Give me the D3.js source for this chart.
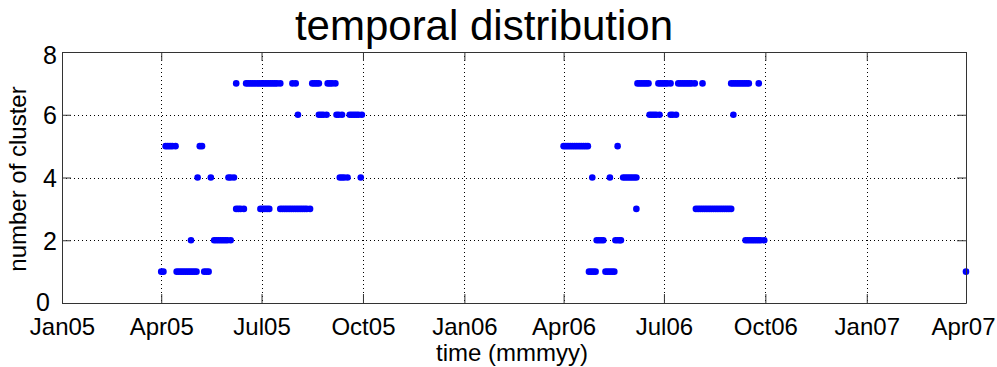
<!DOCTYPE html>
<html>
<head>
<meta charset="utf-8">
<script src="https://cdn.jsdelivr.net/npm/d3@7"></script>
<style>
  html, body { margin: 0; padding: 0; background: #fff; }
  svg { display: block; font-family: "Liberation Sans", Arial, Helvetica, sans-serif; }
</style>
</head>
<body>
<svg id="chart" width="997" height="367"></svg>
<script>
// Day offsets from 2005-01-01 for each cluster number
const cluster1Days = [90, 92, 104, 106, 108, 110, 112, 114, 116, 118, 120, 122, 129, 131, 133,
  478, 480, 482, 484, 493, 495, 497, 499, 501, 820];
const cluster2Days = [117, 138, 140, 142, 144, 146, 148, 150, 153,
  485, 487, 489, 491, 502, 504, 506, 507, 620, 622, 624, 626, 628, 630, 632, 634, 637];
const cluster3Days = [158, 160, 162, 165, 180, 182, 184, 186, 188, 198, 200, 202, 204, 206, 208,
  210, 212, 214, 216, 218, 220, 222, 225, 521, 575, 577, 579, 581, 583, 585, 587, 589, 591, 593,
  595, 597, 599, 601, 603, 605, 607];
const cluster4Days = [123, 135, 151, 153, 156, 252, 254, 256, 259, 271, 481, 497, 509, 511, 513,
  515, 517, 519, 521];
const cluster5Days = [94, 96, 98, 100, 103, 125, 127, 455, 457, 459, 461, 463, 465, 467, 469, 471,
  473, 475, 477, 504];
const cluster6Days = [214, 233, 235, 237, 240, 249, 251, 254, 261, 263, 265, 267, 269, 272,
  533, 535, 537, 539, 542, 552, 554, 557, 609];
const cluster7Days = [158, 167, 169, 171, 173, 175, 177, 179, 181, 183, 185, 187, 189, 191, 193,
  195, 198, 209, 212, 227, 229, 231, 233, 241, 243, 245, 248, 522, 524, 526, 528, 530, 532, 541,
  543, 545, 547, 549, 552, 559, 561, 563, 565, 567, 569, 571, 574, 581, 607, 609, 611, 613, 615,
  617, 619, 621, 623, 632];

const xTickLabels = ["Jan05", "Apr05", "Jul05", "Oct05", "Jan06", "Apr06", "Jul06", "Oct06", "Jan07", "Apr07"];
const yTickValues = [0, 2, 4, 6, 8];

const titleText = "temporal distribution";
const xLabelText = "time (mmmyy)";
const yLabelText = "number of cluster";

// ---- build ----
const clusters = [cluster1Days, cluster2Days, cluster3Days, cluster4Days, cluster5Days, cluster6Days, cluster7Days];
const t0 = Date.UTC(2005, 0, 1);
const dayToDate = d => new Date(t0 + d * 864e5);
const points = [];
clusters.forEach((days, i) => days.forEach(d => points.push({ date: dayToDate(d), value: i + 1 })));

const margin = { left: 62, right: 31, top: 52, bottom: 64 };
const W = 997, H = 367;
const innerW = W - margin.left - margin.right;
const innerH = H - margin.top - margin.bottom;

const svg = d3.select("#chart");
svg.append("rect").attr("width", W).attr("height", H).attr("fill", "#fff");

const x = d3.scaleUtc()
  .domain([new Date(Date.UTC(2005, 0, 1)), new Date(Date.UTC(2007, 3, 1))])
  .range([0, innerW]);
const y = d3.scaleLinear().domain([0, 8]).range([innerH, 0]);

const xTickDates = xTickLabels.map((_, i) => new Date(Date.UTC(2005, i * 3, 1)));

const g = svg.append("g").attr("transform", `translate(${margin.left},${margin.top})`);

// grid
const grid = g.append("g").attr("stroke", "#000").attr("stroke-width", 1)
  .attr("stroke-dasharray", "1,3").attr("shape-rendering", "crispEdges");
grid.selectAll("line.gx").data(xTickDates.slice(1, -1)).join("line")
  .attr("x1", d => Math.round(x(d)) + 0.5).attr("x2", d => Math.round(x(d)) + 0.5)
  .attr("y1", 0).attr("y2", innerH);
grid.selectAll("line.gy").data(yTickValues.slice(1, -1)).join("line")
  .attr("y1", d => Math.round(y(d)) + 0.5).attr("y2", d => Math.round(y(d)) + 0.5)
  .attr("x1", 0).attr("x2", innerW);

// points
g.append("g").selectAll("circle").data(points).join("circle")
  .attr("cx", d => x(d.date)).attr("cy", d => y(d.value))
  .attr("r", 3.3).attr("fill", "#0000ff");

// axes
const axisColor = "#333";
const xAxis = d3.axisBottom(x).tickValues(xTickDates)
  .tickFormat((d, i) => xTickLabels[i]).tickSizeInner(-9).tickSizeOuter(0);
const gx = g.append("g").attr("transform", `translate(0,${innerH})`).call(xAxis);
gx.selectAll("text").attr("y", 32).attr("dy", 0)
  .attr("font-size", 24).attr("fill", "#000")
  .attr("font-family", "Liberation Sans, Arial, sans-serif");
gx.selectAll(".tick").filter((d, i) => i === xTickLabels.length - 1).select("text").attr("x", -3);

const xTop = d3.axisTop(x).tickValues(xTickDates).tickFormat("").tickSizeInner(-9).tickSizeOuter(0);
const gxt = g.append("g").call(xTop);

const yAxis = d3.axisLeft(y).tickValues(yTickValues).tickFormat(d3.format("d"))
  .tickSizeInner(-9).tickSizeOuter(0).tickPadding(5);
const gy = g.append("g").call(yAxis);
gy.selectAll("text").attr("font-size", 25).attr("fill", "#000")
  .attr("font-family", "Liberation Sans, Arial, sans-serif")
  .attr("dy", "0.36em");
gy.selectAll(".tick").filter(d => d === 0).select("text").attr("x", -12).attr("dy", "0.3em");
gy.selectAll(".tick").filter(d => d === 8).select("text").attr("dy", "0.46em");

const yRight = d3.axisRight(y).tickValues(yTickValues).tickFormat("").tickSizeInner(-9).tickSizeOuter(0);
const gyr = g.append("g").attr("transform", `translate(${innerW},0)`).call(yRight);

[gx, gxt, gy, gyr].forEach(a => {
  a.selectAll("path.domain").attr("stroke", axisColor);
  a.selectAll(".tick line").attr("stroke", axisColor);
});

// title and labels
svg.append("text").attr("x", 484).attr("y", 40).attr("text-anchor", "middle")
  .attr("font-size", 42).attr("fill", "#000").text(titleText);
svg.append("text").attr("x", 512).attr("y", 361).attr("text-anchor", "middle")
  .attr("font-size", 24).attr("fill", "#000").text(xLabelText);
svg.append("text").attr("transform", "translate(26,179) rotate(-90)").attr("text-anchor", "middle")
  .attr("font-size", 24).attr("fill", "#000").text(yLabelText);
</script>
</body>
</html>
